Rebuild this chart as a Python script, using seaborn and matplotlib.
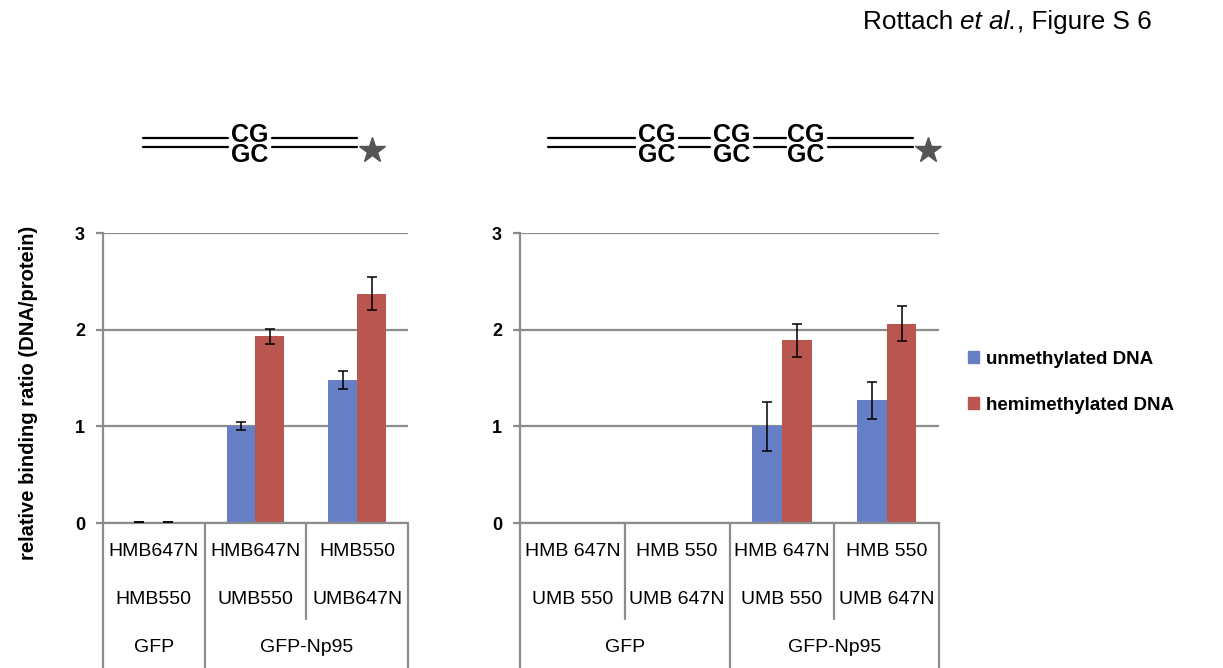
import numpy as np
import pandas as pd
import matplotlib
matplotlib.use('Agg')
import matplotlib.pyplot as plt
import seaborn as sns
from matplotlib.lines import Line2D

# data
left_top = ['HMB647N', 'HMB647N', 'HMB550']
left_bottom = ['HMB550', 'UMB550', 'UMB647N']
left_groups = ['GFP', 'GFP-Np95', 'GFP-Np95']
left_unmeth = [0.01, 1.00, 1.48]
left_unmeth_err = [0.003, 0.04, 0.09]
left_hemi = [0.012, 1.93, 2.37]
left_hemi_err = [0.003, 0.08, 0.17]

right_top = ['HMB 647N', 'HMB 550', 'HMB 647N', 'HMB 550']
right_bottom = ['UMB 550', 'UMB 647N', 'UMB 550', 'UMB 647N']
right_groups = ['GFP', 'GFP', 'GFP-Np95', 'GFP-Np95']
right_unmeth = [0.0, 0.0, 1.00, 1.27]
right_unmeth_err = [0.0, 0.0, 0.25, 0.19]
right_hemi = [0.0, 0.0, 1.89, 2.06]
right_hemi_err = [0.0, 0.0, 0.17, 0.18]

series = ['unmethylated DNA', 'hemimethylated DNA']
colors = ['#6780C5', '#B95650']
grid_col = '#8C8C8C'

sns.set_style('white')
plt.rcParams['font.family'] = ['Liberation Sans', 'DejaVu Sans']
plt.rcParams['text.color'] = 'black'
plt.rcParams['ytick.labelcolor'] = 'black'

W, H = 1223, 668
fig = plt.figure(figsize=(W / 100, H / 100), dpi=100)


def fx(px):
    return px / W


def fy(py):
    return 1 - py / H


ax_l = fig.add_axes([fx(103), fy(523), (408 - 103) / W, (523 - 233) / H])
ax_r = fig.add_axes([fx(520), fy(523), (939 - 520) / W, (523 - 233) / H])


def draw_panel(ax, top, bottom, groups, unmeth, hemi, err_u, err_h):
    n = len(top)
    cats = [f'{g}|{t}|{b}' for g, t, b in zip(groups, top, bottom)]
    df = pd.DataFrame({
        'pair': cats * 2,
        'value': unmeth + hemi,
        'DNA': [series[0]] * n + [series[1]] * n,
    })
    sns.barplot(data=df, x='pair', y='value', hue='DNA', order=cats,
                hue_order=series, palette=colors, saturation=1, width=0.57,
                gap=0, errorbar=None, linewidth=0, ax=ax)

    # error bars on the bars seaborn placed
    for cont, errs in zip(ax.containers, [err_u, err_h]):
        for bar, e in zip(cont, errs):
            if e <= 0:
                continue
            xc = bar.get_x() + bar.get_width() / 2
            ax.errorbar(xc, bar.get_height(), yerr=e, color='black',
                        lw=1.1, capsize=3.5, capthick=1.1, zorder=5)

    ax.set_ylim(0, 3)
    ax.set_xlim(-0.5, n - 0.5)
    ax.set_yticks([0, 1, 2, 3], labels=['0', '1', '2', '3'],
                  fontweight='bold', fontsize=13)
    ax.set_xticks([])
    ax.set_xlabel('')
    ax.set_ylabel('')
    ax.yaxis.grid(True, color=grid_col, lw=1.6)
    ax.set_axisbelow(True)
    ax.tick_params(axis='y', length=5, width=1.6, color=grid_col, pad=8, left=True)
    for s in ['top', 'right']:
        ax.spines[s].set_visible(False)
    for s in ['left', 'bottom']:
        ax.spines[s].set_color(grid_col)
        ax.spines[s].set_linewidth(1.6)
    if ax.get_legend() is not None:
        ax.get_legend().remove()

    # category labels below the axis
    tr = ax.get_xaxis_transform()
    for i in range(n):
        ax.text(i, -0.10, top[i], transform=tr, ha='center', va='center', fontsize=14)
        ax.text(i, -0.265, bottom[i], transform=tr, ha='center', va='center', fontsize=14)
    # group labels and separators
    starts = [i for i in range(n) if i == 0 or groups[i] != groups[i - 1]]
    for k, s in enumerate(starts):
        e = starts[k + 1] - 1 if k + 1 < len(starts) else n - 1
        ax.text((s + e) / 2, -0.43, groups[s], transform=tr, ha='center',
                va='center', fontsize=14)
    for k in range(n + 1):
        b = k - 0.5
        full = k == 0 or k == n or groups[k] != groups[k - 1]
        ybot = -0.50 if full else -0.33
        ax.add_line(Line2D([b, b], [0, ybot], transform=tr, color=grid_col,
                           lw=1.6, clip_on=False))


draw_panel(ax_l, left_top, left_bottom, left_groups, left_unmeth, left_hemi,
           left_unmeth_err, left_hemi_err)
draw_panel(ax_r, right_top, right_bottom, right_groups, right_unmeth, right_hemi,
           right_unmeth_err, right_hemi_err)

fig.text(fx(29), fy(393), 'relative binding ratio (DNA/protein)', rotation=90,
         ha='center', va='center', fontsize=14.5, fontweight='bold')

handles = [plt.Rectangle((0, 0), 1, 1, color=c) for c in colors]
fig.legend(handles, series, loc='upper left', bbox_to_anchor=(fx(960), fy(343)),
           frameon=False, prop={'weight': 'bold', 'size': 13.5},
           handlelength=0.6, handleheight=0.6, handletextpad=0.4,
           labelspacing=1.55, borderaxespad=0)

# title with italic "et al."
renderer = fig.canvas.get_renderer()
parts = [('Rottach ', 'normal'), ('et al.', 'italic'), (', Figure S 6', 'normal')]
x = fx(863)
for txt, style in parts:
    t = fig.text(x, fy(22), txt, ha='left', va='center', fontsize=18.8, style=style)
    bb = t.get_window_extent(renderer=renderer)
    x += bb.width / W


# DNA schematics above the panels
def dna(segments, cg_x, star_x):
    for x0, x1 in segments:
        for yy in (137.5, 146.5):
            fig.add_artist(Line2D([fx(x0), fx(x1)], [fy(yy), fy(yy)],
                                  color='black', lw=1.6))
    for cx in cg_x:
        fig.text(fx(cx), fy(145), 'CG\nGC', ha='center', va='center',
                 fontsize=18, fontweight='bold', linespacing=0.74)
    fig.add_artist(Line2D([fx(star_x)], [fy(150)], marker='*', color='#555555',
                          markersize=19, lw=0))


dna([(143, 228), (272, 357)], [250], 372)
dna([(548, 635), (679, 710), (754, 786), (828, 913)], [657, 732, 806], 928)

fig.savefig('out.png', dpi=100)
